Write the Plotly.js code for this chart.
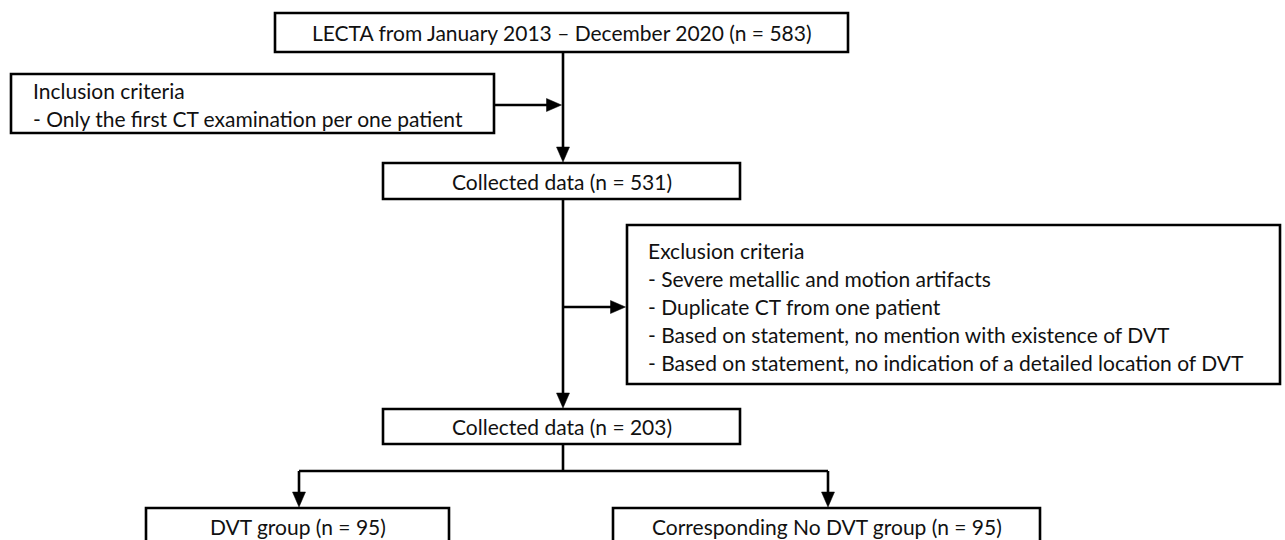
<!DOCTYPE html>
<html><head><meta charset="utf-8">
<script src="https://cdn.plot.ly/plotly-3.0.1.min.js"></script>
<style>html,body{margin:0;padding:0;background:#fff}</style>
</head><body><div id="chart" style="width:1285px;height:540px"></div>
<script>
// ---- data ----
const stageNames = ["LECTA from January 2013 \u2013 December 2020", "Collected data", "Collected data", "DVT group", "Corresponding No DVT group"];
const stageCounts = [583, 531, 203, 95, 95];
const inclusionLines = ["Inclusion criteria", "- Only the first CT examination per one patient"];
const exclusionLines = ["Exclusion criteria", "- Severe metallic and motion artifacts", "- Duplicate CT from one patient", "- Based on statement, no mention with existence of DVT", "- Based on statement, no indication of a detailed location of DVT"];

// ---- geometry (pixels, y downward) ----
const stageBoxes = [
  {x0:275, x1:848, y0:13,  y1:52,  ty:32.5},
  {x0:383, x1:740, y0:163, y1:199, ty:181},
  {x0:383, x1:740, y0:409, y1:444, ty:426.5},
  {x0:146, x1:449, y0:508, y1:546, ty:526},
  {x0:613, x1:1040,y0:508, y1:546, ty:526}
];
const inclusionBox = {x0:11, x1:494, y0:74, y1:133, tx:31, ty:[90,118], arrowY:105};
const exclusionBox = {x0:627, x1:1280, y0:225, y1:384, tx:646, ty:[250,278,306,334,362], arrowY:307};
const stemX = 563, splitY = 471, leftX = 299, rightX = 828;
const LW = 2.6, AH = 15, AW = 6.5;
const FONT = {family:"Lato, 'Open Sans', sans-serif", size:21, color:"#111"};

const shapes = [];
const ann = [];
function rect(b){ shapes.push({type:'rect', xref:'x', yref:'y', x0:b.x0, x1:b.x1, y0:b.y0, y1:b.y1, line:{color:'#000', width:LW}, fillcolor:'rgba(0,0,0,0)'}); }
function line(x0,y0,x1,y1){ shapes.push({type:'line', xref:'x', yref:'y', x0, y0, x1, y1, line:{color:'#000', width:LW}}); }
function downArrow(x,y){ shapes.push({type:'path', xref:'x', yref:'y', path:`M ${x-AW} ${y-AH} L ${x+AW} ${y-AH} L ${x} ${y} Z`, fillcolor:'#000', line:{color:'#000', width:0.5}}); }
function rightArrow(x,y){ shapes.push({type:'path', xref:'x', yref:'y', path:`M ${x-AH} ${y-AW} L ${x-AH} ${y+AW} L ${x} ${y} Z`, fillcolor:'#000', line:{color:'#000', width:0.5}}); }
function text(t,x,y,anchor){ ann.push({text:t, x, y, xref:'x', yref:'y', xanchor:anchor, yanchor:'middle', showarrow:false, font:FONT}); }

stageBoxes.forEach((b,i)=>{ rect(b); text(`${stageNames[i]} (n = ${stageCounts[i]})`, (b.x0+b.x1)/2, b.ty, 'center'); });
rect(inclusionBox); inclusionLines.forEach((t,i)=>text(t, inclusionBox.tx, inclusionBox.ty[i], 'left'));
rect(exclusionBox); exclusionLines.forEach((t,i)=>text(t, exclusionBox.tx, exclusionBox.ty[i], 'left'));

// connectors
line(stemX, stageBoxes[0].y1, stemX, stageBoxes[1].y0 - AH); downArrow(stemX, stageBoxes[1].y0 - 1);
line(inclusionBox.x1, inclusionBox.arrowY, stemX - AH - 1, inclusionBox.arrowY); rightArrow(stemX - 1.5, inclusionBox.arrowY);
line(stemX, stageBoxes[1].y1, stemX, stageBoxes[2].y0 - AH); downArrow(stemX, stageBoxes[2].y0 - 1);
line(stemX, exclusionBox.arrowY, exclusionBox.x0 - AH, exclusionBox.arrowY); rightArrow(exclusionBox.x0 - 1.5, exclusionBox.arrowY);
line(stemX, stageBoxes[2].y1, stemX, splitY);
line(leftX, splitY, rightX, splitY);
line(leftX, splitY, leftX, stageBoxes[3].y0 - AH); downArrow(leftX, stageBoxes[3].y0 - 1);
line(rightX, splitY, rightX, stageBoxes[4].y0 - AH); downArrow(rightX, stageBoxes[4].y0 - 1);

Plotly.newPlot('chart', [], {
  width:1285, height:540, margin:{l:0,r:0,t:0,b:0},
  paper_bgcolor:'#fff', plot_bgcolor:'#fff',
  xaxis:{range:[0,1285], visible:false, fixedrange:true},
  yaxis:{range:[540,0], visible:false, fixedrange:true},
  shapes, annotations:ann, showlegend:false
}, {staticPlot:true});
</script></body></html>
